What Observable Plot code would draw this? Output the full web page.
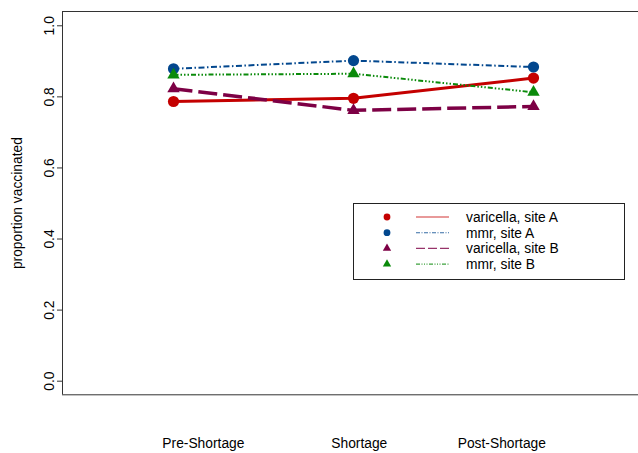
<!DOCTYPE html>
<html>
<head>
<meta charset="utf-8">
<script src="https://cdn.jsdelivr.net/npm/d3@7"></script>
<script src="https://cdn.jsdelivr.net/npm/@observablehq/plot@0.6"></script>
<style>
  html, body { margin: 0; padding: 0; background: white; }
  #wrap { position: relative; width: 638px; height: 453px; overflow: hidden; font-family: "Liberation Sans", Arial, Helvetica, sans-serif; }
  #legend { position: absolute; left: 353px; top: 203px; }
</style>
</head>
<body>
<div id="wrap"><div id="chart"></div><div id="legend"></div></div>
<script>
// ---- data ----
const phaseLabels = ["Pre-Shortage", "Shortage", "Post-Shortage"];
const phaseX = [1, 2, 3];
const labelX = [1.166, 2.032, 2.824];
const yTicks = [0, 0.2, 0.4, 0.6, 0.8, 1.0];
const seriesNames = ["varicella, site A", "mmr, site A", "varicella, site B", "mmr, site B"];
const varicellaA = [0.787, 0.796, 0.853];
const mmrA = [0.879, 0.902, 0.884];
const varicellaB = [0.823, 0.762, 0.773];
const mmrB = [0.862, 0.865, 0.813];
const yTitle = "proportion vaccinated";

// ---- styles ----
const styles = [
  {color: "#C40000", symbol: "circle", r: 5.6, width: 3, dash: null, legendDash: null},
  {color: "#02478E", symbol: "circle", r: 5.6, width: 2, dash: "6,2.5,1.5,2.5", legendDash: "4,1.5,1,1.5"},
  {color: "#7D0045", symbol: "triangle", r: 4.6, width: 3.5, dash: "19,6", legendDash: "9,3"},
  {color: "#0A8A0A", symbol: "triangle", r: 4.6, width: 2, dash: "5,2,1.5,2,1.5,2,1.5,2", legendDash: "4,1.5,1,1.5,1,1.5,1,1.5"}
];
const allValues = [varicellaA, mmrA, varicellaB, mmrB];
const series = allValues.map((vals, k) => ({
  name: seriesNames[k],
  ...styles[k],
  data: phaseX.map((x, i) => ({x, y: vals[i]}))
}));

const xDomain = [0.3833, 3.5833];
const yDomain = [-0.0383, 1.0402];

const marks = [
  Plot.ruleY([yDomain[0], yDomain[1]], {stroke: "#333", strokeWidth: 1}),
  Plot.ruleX([xDomain[0]], {stroke: "#333", strokeWidth: 1}),
  Plot.axisY({ticks: yTicks, tickFormat: d3.format(".1f"), tickSize: 5, tickPadding: 4, tickRotate: -90, label: null, fontSize: 13.8, stroke: "#333"}),
  Plot.text(phaseLabels, {x: (d, i) => labelX[i], text: d => d, frameAnchor: "bottom", dy: 49, lineAnchor: "middle", fontSize: 13.8, fill: "black"}),
  Plot.text([yTitle], {text: d => d, frameAnchor: "left", textAnchor: "middle", dx: -45, rotate: -90, fontSize: 13.8, fill: "black"})
];
for (const s of series) {
  marks.push(Plot.line(s.data, {x: "x", y: "y", stroke: s.color, strokeWidth: s.width, strokeDasharray: s.dash, strokeLinecap: "butt"}));
  marks.push(Plot.dot(s.data, {x: "x", y: "y", symbol: s.symbol, fill: s.color, stroke: "none", r: s.r}));
}

const chart = Plot.plot({
  width: 638,
  height: 453,
  marginLeft: 62,
  marginRight: 0,
  marginTop: 11,
  marginBottom: 58.7,
  x: {type: "linear", domain: xDomain, axis: null},
  y: {type: "linear", domain: yDomain, axis: null},
  style: {fontFamily: "Liberation Sans, Arial, Helvetica, sans-serif", fontSize: "13.8px", background: "white", color: "black"},
  marks
});
document.getElementById("chart").appendChild(chart);

// ---- legend ----
const lw = 271, lh = 76;
const lsvg = d3.select("#legend").append("svg").attr("width", lw + 1).attr("height", lh + 1);
lsvg.append("rect").attr("x", 0.5).attr("y", 0.5).attr("width", lw).attr("height", lh)
  .attr("fill", "white").attr("stroke", "#222").attr("stroke-width", 1);
series.forEach((s, i) => {
  const cy = 14 + i * 15.7;
  const g = lsvg.append("g");
  if (s.symbol === "circle") {
    g.append("circle").attr("cx", 34).attr("cy", cy).attr("r", 3.4).attr("fill", s.color);
  } else {
    g.append("path").attr("transform", `translate(34,${cy})`)
      .attr("d", d3.symbol(d3.symbolTriangle, 30)()).attr("fill", s.color);
  }
  g.append("line").attr("x1", 63).attr("x2", 96).attr("y1", cy).attr("y2", cy)
    .attr("stroke", s.color).attr("stroke-width", 1.1).attr("stroke-opacity", 0.8)
    .attr("stroke-dasharray", s.legendDash);
  g.append("text").attr("x", 113).attr("y", cy).attr("dy", "0.35em")
    .attr("font-size", "13.8px").attr("fill", "black")
    .style("font-family", "Liberation Sans, Arial, Helvetica, sans-serif")
    .text(s.name);
});
</script>
</body>
</html>
